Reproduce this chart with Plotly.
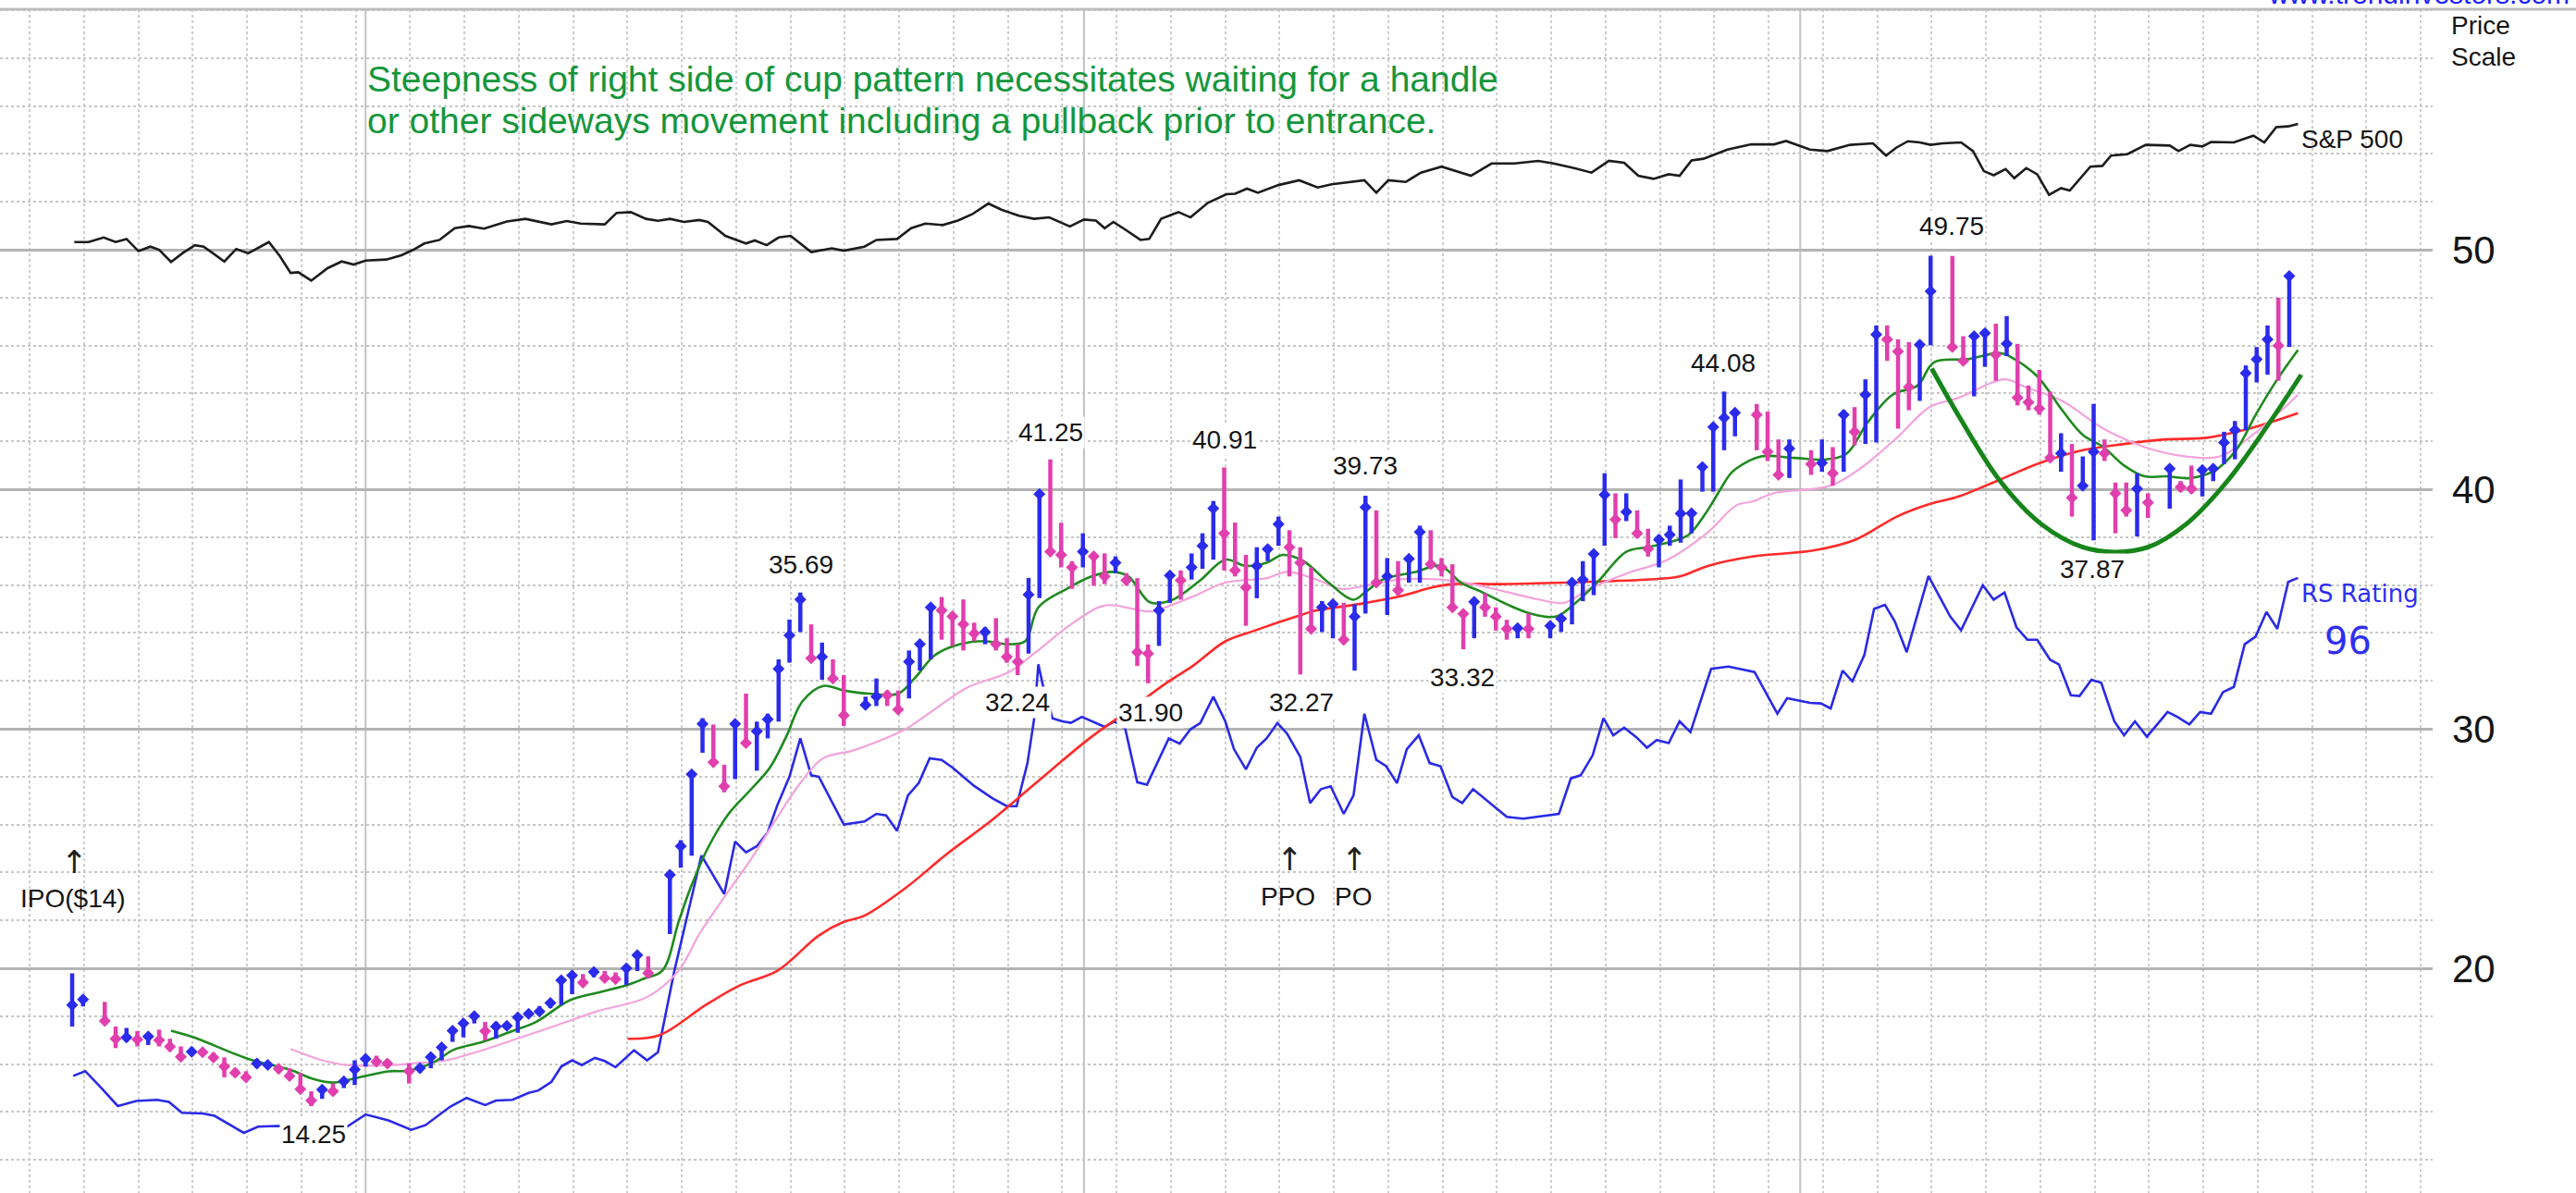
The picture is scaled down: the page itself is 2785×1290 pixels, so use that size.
import plotly.graph_objects as go

# ---------------- data ----------------
# daily bars, index = trading-day slot; None = empty slot (holiday gap)
bar_high = [19.79, 18.86, None, 18.60, 17.57, 17.51, 17.38, 17.19, 17.44, 17.06,
            16.74, 16.70, 16.60, 16.48, 16.28, 15.83, 15.70, 16.22, 16.10, 15.96,
            15.83, 15.64, 14.87, 15.00, 15.19, 15.32, 16.16, 16.35, 16.35, 16.16,
            None, 16.03, 15.96, 16.35, 16.74, 17.44, 17.76, 18.09, 17.76, 17.76,
            17.70, 18.09, 18.22, 18.41, 18.60, 19.57, 19.76, 19.76, 19.89, 19.89,
            19.83, 20.08, 20.60, 20.50, None, 24.07, 25.35, 28.20, 30.44, 30.18,
            28.50, 30.30, 31.47, 30.30, 30.63, 32.90, 34.56, 35.69, 34.36, 33.60,
            32.90, 32.24, None, 31.34, 32.10, 31.60, 31.60, 33.27, 33.66, 35.20,
            35.50, 34.88, 35.40, 34.43, 34.24, 34.62, 33.78, 33.53, 36.30, 39.90,
            41.25, 38.60, 37.00, 38.16, 37.32, 37.32, 37.20, 36.50, 36.29, 33.52,
            35.33, 36.48, 36.61, 37.32, 38.16, 39.51, 40.91, 38.61, 37.26, 37.58,
            37.64, 38.86, 38.29, 37.58, 36.74, 35.33, 35.26, 35.26, 35.20, 39.73,
            39.12, 37.13, 37.00, 37.19, 38.48, 38.29, 37.13, 36.87, 34.88, 35.39,
            35.65, 35.07, 34.55, 34.36, 34.81, None, 34.36, 34.68, 36.23, 37.00,
            37.45, 40.67, 39.83, 39.83, 39.12, 38.35, 38.09, 38.48, 40.41, 39.06,
            41.05, 42.70, 44.08, 43.24, None, 43.56, 43.24, 42.08, 42.08, None,
            41.63, 42.08, 41.76, 43.30, 43.43, 44.59, 46.84, 46.84, 46.26, 46.14,
            46.20, 49.75, None, 49.74, 46.39, 46.52, 46.65, 46.91, 47.23, 46.07,
            44.33, 44.98, 44.08, 42.34, 41.89, 41.37, 43.56, 42.08, 40.28, 40.28,
            40.67, 39.83, None, 40.99, 40.34, 40.99, 40.92, 40.99, 42.40, 42.85,
            45.17, 45.94, 46.84, 48.00, 48.97]
bar_low = [17.57, 18.41, None, 17.70, 16.67, 16.93, 16.74, 16.80, 16.74, 16.54,
           16.16, 16.35, 16.48, 16.16, 15.45, 15.51, 15.32, 15.83, 15.87, 15.71,
           15.38, 14.87, 14.25, 14.55, 14.74, 15.00, 15.13, 15.90, 16.03, 15.96,
           None, 15.19, 15.64, 15.83, 16.16, 16.93, 17.12, 17.70, 16.99, 17.06,
           17.50, 17.31, 17.96, 18.09, 18.34, 18.47, 18.92, 19.31, 19.63, 19.50,
           19.44, 19.31, 19.89, 19.60, None, 21.43, 24.20, 24.70, 29.00, 28.50,
           27.35, 27.90, 29.30, 28.25, 29.60, 30.30, 32.76, 34.04, 32.90, 32.05,
           31.99, 30.12, None, 30.89, 30.95, 30.95, 30.63, 31.27, 32.43, 32.90,
           33.72, 33.46, 33.27, 33.66, 33.53, 33.27, 32.76, 32.24, 33.14, 35.46,
           37.26, 36.74, 35.84, 36.74, 35.97, 36.04, 36.50, 36.00, 32.62, 31.90,
           33.46, 35.26, 35.39, 36.23, 36.68, 37.06, 36.61, 36.36, 34.30, 35.45,
           37.00, 37.64, 36.36, 32.27, 34.04, 34.04, 33.78, 33.52, 32.43, 34.81,
           35.97, 34.75, 35.58, 36.10, 36.10, 36.68, 36.36, 35.00, 33.32, 33.78,
           34.68, 34.10, 33.72, 33.78, 33.78, None, 33.78, 34.04, 34.36, 35.33,
           35.58, 37.64, 37.96, 38.67, 38.09, 37.19, 36.74, 37.64, 37.77, 38.16,
           39.90, 39.90, 41.63, 42.21, None, 41.63, 41.18, 40.47, 40.47, None,
           40.60, 40.73, 40.15, 40.73, 41.83, 41.89, 41.95, 45.36, 42.53, 43.30,
           43.69, 46.01, None, 45.88, 45.24, 43.88, 45.11, 44.53, 45.56, 43.50,
           43.30, 43.11, 41.18, 40.73, 38.86, 40.02, 37.87, 41.18, 38.16, 38.86,
           38.03, 38.80, None, 39.19, 39.89, 39.83, 39.70, 40.34, 41.05, 41.25,
           42.47, 44.46, 44.78, 44.53, 45.94]
bar_close = [18.47, 18.70, None, 17.80, 17.06, 17.12, 17.03, 17.15, 17.00, 16.73,
             16.31, 16.52, 16.50, 16.28, 15.90, 15.64, 15.45, 16.03, 15.97, 15.80,
             15.50, 14.95, 14.48, 14.93, 14.87, 15.28, 15.77, 16.22, 16.10, 16.03,
             None, 15.71, 15.83, 16.30, 16.70, 17.40, 17.70, 18.00, 17.38, 17.57,
             17.60, 17.96, 18.10, 18.20, 18.55, 19.50, 19.70, 19.40, 19.85, 19.60,
             19.55, 20.00, 20.55, 19.80, None, 23.90, 25.10, 28.10, 30.20, 28.60,
             27.60, 30.20, 29.40, 29.90, 30.40, 32.50, 33.90, 35.40, 32.95, 33.00,
             32.10, 30.56, None, 31.00, 31.34, 31.40, 30.80, 32.80, 33.53, 35.07,
             34.94, 34.69, 34.36, 33.98, 34.04, 33.53, 33.00, 32.80, 35.60, 39.80,
             37.40, 37.26, 36.74, 37.40, 37.20, 36.36, 36.93, 36.20, 33.20, 33.14,
             34.94, 36.40, 36.20, 36.74, 37.64, 39.20, 38.16, 36.61, 35.90, 36.80,
             37.50, 38.54, 37.58, 36.93, 34.17, 35.07, 35.20, 33.72, 34.68, 39.25,
             36.10, 36.36, 35.78, 37.10, 38.22, 36.87, 36.74, 35.07, 34.80, 35.30,
             35.07, 34.68, 34.17, 34.20, 34.17, None, 34.30, 34.60, 36.10, 36.23,
             37.30, 39.77, 38.74, 39.06, 38.16, 37.51, 37.90, 38.10, 38.99, 39.00,
             40.93, 42.60, 42.98, 43.20, None, 43.11, 41.57, 40.60, 41.70, None,
             41.05, 41.10, 40.67, 43.11, 42.40, 43.95, 46.46, 46.26, 45.75, 44.27,
             46.03, 48.26, None, 45.94, 45.36, 46.39, 46.52, 45.62, 46.07, 43.82,
             43.63, 43.37, 41.31, 41.50, 39.64, 40.15, 41.57, 41.50, 39.83, 39.12,
             40.02, 39.44, None, 40.86, 40.09, 40.02, 40.80, 40.86, 41.95, 42.47,
             44.85, 45.43, 46.26, 46.00, 48.90]
# u = up day (blue), d = down day (magenta), '' = empty slot
bar_dir = ['u', 'u', '', 'd', 'd', 'u', 'd', 'u', 'd', 'd',
           'd', 'u', 'd', 'd', 'd', 'd', 'd', 'u', 'u', 'd',
           'd', 'd', 'd', 'u', 'd', 'u', 'u', 'u', 'd', 'd',
           '', 'd', 'u', 'u', 'u', 'u', 'u', 'u', 'd', 'u',
           'u', 'u', 'u', 'u', 'u', 'u', 'u', 'd', 'u', 'd',
           'd', 'u', 'u', 'd', '', 'u', 'u', 'u', 'u', 'd',
           'd', 'u', 'd', 'u', 'u', 'u', 'u', 'u', 'd', 'u',
           'd', 'd', '', 'u', 'u', 'd', 'd', 'u', 'u', 'u',
           'd', 'd', 'd', 'd', 'u', 'd', 'd', 'd', 'u', 'u',
           'd', 'd', 'd', 'u', 'd', 'd', 'u', 'd', 'd', 'd',
           'u', 'u', 'd', 'u', 'u', 'u', 'd', 'd', 'd', 'u',
           'u', 'u', 'd', 'd', 'd', 'u', 'u', 'd', 'u', 'u',
           'd', 'u', 'd', 'u', 'u', 'd', 'd', 'd', 'd', 'u',
           'd', 'd', 'd', 'u', 'd', '', 'u', 'u', 'u', 'u',
           'u', 'u', 'd', 'u', 'd', 'd', 'u', 'u', 'u', 'u',
           'u', 'u', 'u', 'u', '', 'd', 'd', 'd', 'u', '',
           'd', 'u', 'd', 'u', 'd', 'u', 'u', 'd', 'd', 'd',
           'u', 'u', '', 'd', 'd', 'u', 'u', 'd', 'u', 'd',
           'd', 'd', 'd', 'u', 'd', 'u', 'u', 'd', 'd', 'd',
           'u', 'd', '', 'u', 'd', 'd', 'u', 'u', 'u', 'u',
           'u', 'u', 'u', 'd', 'u']

# moving averages
ma10_day = [9.1, 11.2, 16.2, 20.0, 22.2, 24.1, 26.4, 29.1, 31.0, 33.3, 35.1, 37.8, 40.5, 42.7,
            45.8, 48.4, 51.1, 52.6, 54.3, 55.8, 56.9, 58.5, 60.4, 62.6, 64.2, 65.7, 67.2, 69.1,
            71.0, 73.3, 76.0, 77.5, 79.4, 81.7, 83.9, 86.2, 87.7, 88.9, 91.5, 93.8, 95.7, 97.2,
            99.2, 101.3, 103.8, 106.1, 108.0, 109.9, 111.4, 113.3, 115.6, 117.9, 119.0, 120.6,
            123.6, 125.9, 127.8, 129.7, 132.0, 134.2, 136.5, 138.0, 140.3, 143.0, 144.9, 146.8,
            148.7, 150.2, 151.0, 152.5, 153.1, 155.4, 158.4, 161.4, 163.3, 165.2, 167.5, 169.8,
            171.3, 174.4, 177.4, 178.5, 180.8, 183.1, 185.0, 186.9, 188.8, 190.7, 192.6, 194.9,
            197.2, 199.1, 201.0, 202.9, 204.8]
ma10_value = [17.40, 17.12, 16.22, 15.77, 15.38, 15.23, 15.45, 15.70, 15.73, 16.09, 16.60, 16.93,
              17.38, 17.77, 18.67, 18.99, 19.31, 19.57, 19.90, 21.94, 23.36, 25.03, 26.45, 27.54,
              28.38, 29.67, 31.15, 31.79, 31.60, 31.47, 31.47, 32.10, 33.08, 33.53, 33.66, 33.53,
              33.66, 35.07, 35.84, 36.36, 36.55, 36.36, 35.27, 35.40, 36.20, 37.06, 36.80, 36.93,
              37.26, 37.00, 36.10, 35.39, 35.71, 36.23, 36.55, 36.80, 36.10, 35.71, 35.20, 34.81,
              34.68, 35.13, 36.10, 37.39, 37.58, 37.77, 38.09, 38.93, 39.50, 40.60, 40.86, 41.37,
              41.31, 41.25, 41.50, 42.79, 43.95, 44.33, 45.30, 45.43, 45.69, 45.49, 44.72, 43.30,
              42.27, 41.76, 40.99, 40.54, 40.54, 40.47, 40.80, 41.63, 43.18, 44.59, 45.81]

ma21_day = [20.1, 23.0, 25.3, 29.5, 31.3, 34.4, 37.0, 40.9, 44.7, 48.4, 52.9, 55.8, 57.7, 60.0,
            62.6, 64.9, 67.2, 69.1, 71.8, 74.8, 76.7, 79.4, 82.4, 86.2, 88.5, 91.9, 95.0, 97.6,
            99.2, 103.0, 106.1, 109.9, 111.8, 114.5, 116.8, 119.0, 122.1, 125.9, 128.9, 132.0,
            135.0, 137.3, 139.6, 143.0, 146.8, 150.5, 153.1, 154.7, 156.5, 161.8, 164.5, 167.9,
            170.9, 173.6, 177.8, 179.7, 183.1, 186.9, 190.7, 194.5, 197.6, 200.3, 203.3, 204.8]
ma21_value = [16.63, 16.16, 15.96, 15.96, 16.03, 16.16, 16.48, 17.06, 17.64, 18.22, 18.80, 19.90,
              21.43, 22.97, 24.65, 26.32, 27.86, 28.77, 29.09, 29.60, 29.99, 30.83, 31.73, 32.37,
              33.14, 34.36, 35.15, 35.01, 34.90, 35.50, 36.10, 36.29, 36.55, 36.23, 35.84, 35.97,
              36.23, 36.23, 36.04, 35.71, 35.39, 35.26, 35.84, 36.48, 37.06, 38.20, 39.32, 39.50,
              39.83, 40.15, 40.86, 42.15, 43.43, 43.82, 44.59, 44.27, 43.69, 42.53, 41.76, 41.37,
              41.37, 42.15, 43.30, 43.95]

ma50_day = [51.1, 54.0, 58.4, 61.5, 64.9, 68.7, 71.0, 72.9, 76.7, 80.5, 84.3, 87.0, 90.0, 93.8,
            97.6, 100.7, 103.1, 106.1, 108.8, 112.6, 114.5, 118.3, 122.1, 125.1, 127.0, 131.6,
            137.3, 141.1, 144.9, 147.9, 150.5, 154.6, 160.3, 164.1, 167.9, 170.9, 173.6, 177.4,
            181.2, 185.0, 188.8, 192.6, 196.4, 200.3, 204.8]
ma50_value = [17.06, 17.20, 18.50, 19.30, 19.90, 21.37, 21.94, 22.20, 23.36, 24.78, 26.07, 27.09,
              28.25, 29.67, 30.89, 31.92, 32.62, 33.65, 34.10, 34.68, 34.94, 35.20, 35.52, 35.90,
              36.04, 36.04, 36.10, 36.16, 36.23, 36.36, 36.80, 37.19, 37.45, 37.90, 38.86, 39.38,
              39.70, 40.41, 41.12, 41.63, 41.89, 42.08, 42.15, 42.53, 43.18]

# relative strength line (plotted on the price scale)
rs_day = [0.1, 1.2, 2.7, 4.2, 5.9, 7.8, 8.9, 10.1, 12.0, 13.1, 15.8, 17.1, 18.8, 22.0, 25.3, 27.0,
          29.1, 31.2, 32.5, 34.8, 36.3, 38.0, 39.0, 40.5, 42.0, 42.9, 44.1, 45.0, 46.0, 46.9,
          48.1, 49.0, 50.0, 51.7, 52.9, 53.9, 55.4, 57.9, 60.0, 61.0, 62.0, 63.0, 64.0, 64.9,
          66.0, 67.0, 68.0, 68.7, 71.0, 72.9, 74.0, 74.9, 75.9, 76.9, 77.9, 78.9, 80.0, 81.0,
          83.0, 84.7, 86.0, 86.9, 87.9, 88.5, 88.9, 89.3, 90.2, 91.1, 91.9, 92.9, 93.8, 95.0,
          95.9, 96.9, 98.0, 98.9, 100.9, 101.9, 102.9, 103.8, 105.0, 106.1, 106.9, 108.0,
          109.0, 109.9, 110.9, 111.8, 113.0, 113.9, 114.9, 115.8, 117.0, 117.9, 118.9, 120.0,
          120.9, 121.9, 122.8, 123.9, 124.9, 125.9, 127.0, 127.9, 128.9, 132.0, 133.5, 135.8,
          136.8, 137.9, 138.8, 139.9, 140.9, 141.8, 142.8, 143.9, 144.9, 145.8, 146.9, 147.9,
          148.9, 150.8, 152.4, 154.8, 156.9, 157.8, 159.9, 160.9, 161.8, 162.9, 163.8, 164.9,
          165.8, 166.8, 167.7, 168.8, 170.8, 172.8, 173.8, 175.8, 176.8, 177.8, 178.9, 179.9,
          180.8, 182.0, 182.8, 183.9, 184.7, 185.8, 186.7, 187.9, 188.8, 189.8, 190.9, 192.8,
          193.7, 194.8, 195.8, 196.8, 197.9, 198.9, 199.9, 200.9, 201.9, 202.9, 203.9, 204.8]
rs_value = [15.51, 15.71, 15.00, 14.25, 14.46, 14.51, 14.42, 13.97, 13.94, 13.84, 13.13, 13.39,
            13.42, 13.40, 13.39, 13.90, 13.65, 13.26, 13.45, 14.23, 14.59, 14.29, 14.48, 14.51,
            14.80, 14.90, 15.26, 15.90, 16.16, 15.96, 16.26, 16.13, 15.87, 16.58, 16.16, 16.50,
            19.88, 24.71, 23.10, 25.29, 24.84, 25.10, 25.68, 26.83, 28.00, 29.60, 28.06, 28.00,
            26.00, 26.13, 26.45, 26.38, 25.74, 27.22, 27.74, 28.77, 28.70, 28.38, 27.61, 27.09,
            26.77, 26.77, 28.57, 30.37, 32.69, 31.85, 30.44, 30.31, 30.25, 30.50, 30.31, 30.08,
            30.31, 29.99, 27.77, 27.67, 29.60, 29.38, 29.98, 30.24, 31.34, 30.31, 29.15, 28.31,
            29.21, 29.60, 30.24, 29.79, 28.83, 26.90, 27.48, 27.60, 26.45, 27.22, 30.63, 28.70,
            28.44, 27.73, 29.15, 29.73, 28.57, 28.44, 27.15, 26.90, 27.48, 26.32, 26.25, 26.38,
            26.45, 27.93, 28.06, 28.89, 30.44, 29.73, 30.05, 29.66, 29.21, 29.53, 29.40, 30.31,
            29.86, 32.50, 32.60, 32.37, 30.63, 31.28, 31.08, 31.06, 30.85, 32.43, 31.98, 33.08,
            35.01, 35.17, 34.49, 33.20, 36.38, 34.69, 34.11, 36.00, 35.39, 35.69, 34.24, 33.72,
            33.72, 32.88, 32.69, 31.40, 31.37, 32.05, 31.92, 30.31, 29.73, 30.31, 29.67, 30.70,
            30.50, 30.18, 30.70, 30.63, 31.53, 31.75, 33.53, 33.85, 34.88, 34.17, 36.13, 36.30]

# S&P 500 overlay line (plotted on the price scale)
sp_day = [0.2, 1.5, 2.9, 4.0, 5.0, 6.1, 7.2, 8.0, 9.1, 10.2, 11.3, 12.1, 12.9, 14.0, 15.1, 16.2,
          18.1, 19.1, 20.1, 20.8, 22.0, 23.5, 24.8, 25.9, 27.0, 28.9, 30.3, 31.4, 32.4, 33.8,
          35.2, 36.5, 37.9, 39.0, 40.0, 41.7, 42.8, 44.1, 45.5, 46.8, 49.0, 50.1, 51.4, 52.8,
          53.9, 55.0, 56.3, 57.7, 58.5, 60.1, 62.0, 62.8, 63.9, 65.0, 66.1, 68.0, 69.9, 71.0,
          72.9, 74.0, 75.9, 77.2, 78.5, 80.1, 81.5, 82.8, 84.3, 85.5, 87.1, 88.5, 89.9, 91.8,
          93.1, 94.2, 95.0, 95.8, 96.9, 98.3, 99.1, 100.2, 101.8, 102.9, 104.5, 106.2, 107.0,
          108.1, 109.1, 111.0, 112.9, 114.6, 115.9, 117.5, 118.9, 120.0, 121.1, 122.7, 124.1,
          126.0, 127.3, 128.7, 130.6, 132.7, 134.9, 136.3, 138.2, 139.8, 141.4, 142.8, 144.1,
          145.5, 146.9, 147.9, 149.0, 150.1, 152.3, 154.5, 156.6, 157.7, 159.9, 161.5, 163.6,
          165.7, 166.9, 167.8, 168.9, 170.0, 171.0, 172.1, 173.8, 174.9, 175.9, 176.8, 177.9,
          178.7, 179.8, 180.8, 181.9, 183.0, 183.8, 185.7, 186.8, 187.6, 189.1, 190.8, 193.0,
          193.8, 194.9, 196.0, 196.8, 198.9, 200.7, 201.7, 202.8, 203.9, 204.8]
sp_value = [50.32, 50.32, 50.51, 50.32, 50.45, 49.94, 50.13, 50.00, 49.49, 49.87, 50.19, 50.13,
            49.87, 49.51, 50.03, 49.85, 50.32, 49.74, 49.03, 49.06, 48.71, 49.23, 49.51, 49.38,
            49.55, 49.59, 49.77, 50.00, 50.26, 50.41, 50.90, 50.99, 50.88, 51.03, 51.18, 51.29,
            51.18, 51.06, 51.20, 51.09, 51.06, 51.54, 51.57, 51.29, 51.21, 51.29, 51.16, 51.24,
            51.16, 50.58, 50.26, 50.39, 50.19, 50.51, 50.58, 49.90, 50.06, 49.96, 50.13, 50.41,
            50.45, 50.90, 51.09, 51.03, 51.22, 51.48, 51.93, 51.67, 51.42, 51.29, 51.35, 50.97,
            51.26, 51.22, 50.90, 51.16, 50.84, 50.41, 50.45, 51.29, 51.57, 51.35, 51.96, 52.32,
            52.34, 52.55, 52.38, 52.70, 52.90, 52.60, 52.73, 52.81, 52.90, 52.38, 52.90, 52.83,
            53.22, 53.47, 53.28, 53.09, 53.60, 53.60, 53.71, 53.60, 53.41, 53.22, 53.71, 53.63,
            53.09, 52.96, 53.15, 53.09, 53.73, 53.80, 54.18, 54.40, 54.40, 54.54, 54.18, 54.12,
            54.38, 54.44, 53.93, 54.25, 54.53, 54.48, 54.38, 54.44, 54.48, 54.12, 53.28, 53.11,
            53.37, 52.99, 53.41, 53.15, 52.29, 52.57, 52.47, 53.47, 53.50, 53.93, 53.99, 54.38,
            54.35, 54.12, 54.38, 54.31, 54.50, 54.48, 54.76, 54.48, 55.12, 55.15, 55.25]

# hand-drawn cup outline
cup_day = [171.1, 173.6, 177.4, 181.2, 185.0, 188.0, 191.0, 194.5, 198.3, 202.0, 205.1]
cup_value = [45.04, 43.05, 40.34, 38.54, 37.58, 37.38, 37.58, 38.54, 40.34, 42.66, 44.78]

# price call-outs
label_text = ["35.69", "41.25", "40.91", "39.73", "44.08", "49.75", "37.87",
              "32.24", "31.90", "32.27", "33.32", "14.25"]
label_day = [67.1, 90.0, 106.0, 119.0, 151.9, 172.9, 185.9, 87.0, 99.2, 113.1, 127.9, 22.2]
label_value = [36.87, 42.39, 42.08, 41.00, 45.29, 50.97, 36.68, 31.12, 30.69, 31.12, 32.16, 13.09]

# event markers
event_text = ["IPO($14)", "PPO", "PO"]
event_day = [0.1, 111.9, 117.9]
event_value = [22.9, 23.0, 23.0]

quarter_days = [27.0, 93.1, 159.0]
price_ticks = [20, 30, 40, 50]
rs_rating = "96"

# ---------------- styling ----------------
BLUE = "#2b2bec"
PINK = "#e13fae"
FONT = "Liberation Sans, Arial, sans-serif"
X_RANGE = [-6.64, 217.19]
Y_RANGE = [10.62, 60.04]

fig = go.Figure()

fig.add_trace(go.Scatter(x=sp_day, y=sp_value, mode="lines",
                         line=dict(color="#1c1c1c", width=2.6), hoverinfo="skip"))
fig.add_trace(go.Scatter(x=rs_day, y=rs_value, mode="lines",
                         line=dict(color="#2a2ae6", width=2.6), hoverinfo="skip"))
fig.add_trace(go.Scatter(x=ma50_day, y=ma50_value, mode="lines", line_shape="spline",
                         line=dict(color="#ff2a2a", width=2.6), hoverinfo="skip"))
fig.add_trace(go.Scatter(x=ma21_day, y=ma21_value, mode="lines", line_shape="spline",
                         line=dict(color="#f3a3dc", width=2.2), hoverinfo="skip"))
fig.add_trace(go.Scatter(x=ma10_day, y=ma10_value, mode="lines", line_shape="spline",
                         line=dict(color="#1f8a1f", width=2.6), hoverinfo="skip"))

for flag, col in (("u", BLUE), ("d", PINK)):
    xs, ys, cx, cy = [], [], [], []
    for d in range(len(bar_high)):
        if bar_dir[d] != flag or bar_high[d] is None:
            continue
        xs += [d, d, None]
        ys += [bar_low[d], bar_high[d], None]
        cx.append(d)
        cy.append(bar_close[d])
    fig.add_trace(go.Scatter(x=xs, y=ys, mode="lines", line=dict(color=col, width=4.5),
                             hoverinfo="skip"))
    fig.add_trace(go.Scatter(x=cx, y=cy, mode="markers",
                             marker=dict(symbol="diamond", size=10, color=col),
                             hoverinfo="skip"))

fig.add_trace(go.Scatter(x=cup_day, y=cup_value, mode="lines", line_shape="spline",
                         line=dict(color="#17851a", width=5), hoverinfo="skip"))

ann = []
for t, d, v in zip(label_text, label_day, label_value):
    ann.append(dict(x=d, y=v, xref="x", yref="y", text=t, showarrow=False,
                    font=dict(family=FONT, size=28, color="#151515"),
                    bgcolor="white", borderpad=1))
for t, d, v in zip(event_text, event_day, event_value):
    ann.append(dict(x=d, y=v, xref="x", yref="y", text=t, showarrow=False,
                    font=dict(family=FONT, size=28, color="#151515")))
    ann.append(dict(x=d + 0.1, y=v + 1.55, xref="x", yref="y", text="↑", showarrow=False,
                    font=dict(family="DejaVu Sans", size=34, color="#202020")))

ann.append(dict(x=27.0, y=57.14, xref="x", yref="y", xanchor="left", showarrow=False,
                text="Steepness of right side of cup pattern necessitates waiting for a handle",
                font=dict(family=FONT, size=39, color="#15963c")))
ann.append(dict(x=27.0, y=55.40, xref="x", yref="y", xanchor="left", showarrow=False,
                text="or other sideways movement including a pullback prior to entrance.",
                font=dict(family=FONT, size=39, color="#15963c")))
ann.append(dict(x=204.9, y=54.6, xref="x", yref="y", xanchor="left", showarrow=False,
                text="S&P 500", font=dict(family=FONT, size=28, color="#151515")))
ann.append(dict(x=204.9, y=35.64, xref="x", yref="y", xanchor="left", showarrow=False,
                text="RS Rating", font=dict(family="DejaVu Sans", size=26, color="#2f2ff0")))
ann.append(dict(x=209.4, y=33.67, xref="x", yref="y", showarrow=False,
                text=rs_rating, font=dict(family="DejaVu Sans", size=40, color="#2f2ff0")))
ann.append(dict(x=1.0068, y=59.38, xref="paper", yref="y", xanchor="left", showarrow=False,
                text="Price", font=dict(family=FONT, size=28, color="#151515")))
ann.append(dict(x=1.0068, y=58.07, xref="paper", yref="y", xanchor="left", showarrow=False,
                text="Scale", font=dict(family=FONT, size=28, color="#151515")))
ann.append(dict(x=1.057, y=0.9985, xref="paper", yref="paper", xanchor="right",
                yanchor="bottom", showarrow=False, text="www.trendinvestors.com",
                font=dict(family=FONT, size=30, color="#2020ff")))

shapes = []
for q in quarter_days:
    shapes.append(dict(type="line", xref="x", yref="paper", x0=q, x1=q, y0=0, y1=1,
                       line=dict(color="#c2c2c2", width=2), layer="below"))
shapes.append(dict(type="line", xref="paper", yref="paper", x0=0, x1=1.06, y0=1, y1=1,
                   line=dict(color="#bdbdbd", width=3), layer="above"))

fig.update_layout(
    width=2785, height=1290,
    margin=dict(l=0, r=155, t=10, b=0),
    paper_bgcolor="white", plot_bgcolor="white",
    showlegend=False,
    annotations=ann, shapes=shapes,
    xaxis=dict(range=X_RANGE, showticklabels=False, ticks="", zeroline=False,
               showline=False, showgrid=True, tickmode="linear", tick0=1.1, dtick=5,
               gridcolor="#cdcdcd", griddash="dot", gridwidth=1.5),
    yaxis=dict(range=Y_RANGE, side="right", tickmode="array", tickvals=price_ticks,
               ticktext=[str(t) for t in price_ticks], ticks="", ticklabelstandoff=20,
               tickfont=dict(family=FONT, size=42, color="#151515"),
               zeroline=False, showline=False, showgrid=True,
               gridcolor="#b3b3b3", gridwidth=3,
               minor=dict(tickmode="linear", tick0=0, dtick=2, showgrid=True,
                          gridcolor="#c6c6c6", griddash="dot", gridwidth=2, ticks="")),
)

fig.write_html("out.html", config={"displayModeBar": False},
               post_script="document.body.style.margin='0px';")
